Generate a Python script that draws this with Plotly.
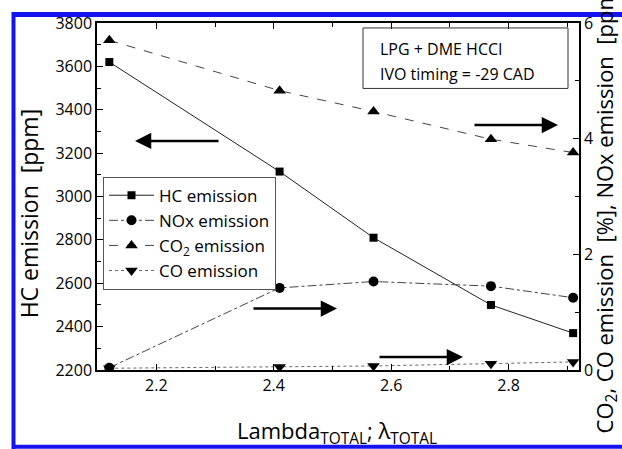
import plotly.graph_objects as go

# ---- data ----
lam = [2.12, 2.41, 2.57, 2.77, 2.91]
hc_ppm = [3620, 3115, 2810, 2500, 2370]
nox = [0.04, 1.42, 1.53, 1.45, 1.25]
co2 = [5.70, 4.83, 4.47, 3.99, 3.76]
co = [0.03, 0.05, 0.07, 0.11, 0.14]

x_ticks = [2.2, 2.4, 2.6, 2.8]
y_ticks = [2200, 2400, 2600, 2800, 3000, 3200, 3400, 3600, 3800]
y2_ticks = [0, 2, 4, 6]

FONT = "Open Sans"
W, H = 622, 449
L, R, T, B = 97, 579, 20, 370  # plot area in pixels


def px(xp):
    return (xp - L) / (R - L)


def py(yp):
    return (B - yp) / (B - T)


fig = go.Figure()
fig.add_trace(go.Scatter(x=lam, y=hc_ppm, name="HC emission", mode="lines+markers",
                         line=dict(color="#222", width=1, dash="solid"),
                         marker=dict(symbol="square", size=8, color="black")))
fig.add_trace(go.Scatter(x=lam, y=nox, name="NOx emission", yaxis="y2", mode="lines+markers",
                         line=dict(color="#444", width=1, dash="dashdot"),
                         marker=dict(symbol="circle", size=10, color="black")))
fig.add_trace(go.Scatter(x=lam, y=co2, name="CO<sub>2</sub> emission", yaxis="y2", mode="lines+markers",
                         line=dict(color="#444", width=1, dash="dash"),
                         marker=dict(symbol="triangle-up", size=11, color="black")))
fig.add_trace(go.Scatter(x=lam, y=co, name="CO emission", yaxis="y2", mode="lines+markers",
                         line=dict(color="#666", width=1, dash="dot"),
                         marker=dict(symbol="triangle-down", size=11, color="black")))

axis_common = dict(showline=True, linecolor="black", linewidth=1.5, ticks="inside",
                   tickcolor="black", ticklen=6, tickwidth=1, showgrid=False, zeroline=False,
                   tickfont=dict(family=FONT, size=16, color="black"))

fig.update_layout(
    width=W, height=H,
    margin=dict(l=L, r=W - R, t=T, b=H - B),
    paper_bgcolor="white", plot_bgcolor="white",
    font=dict(family=FONT, color="black"),
    xaxis=dict(range=[2.099, 2.92], tickvals=x_ticks, mirror="ticks",
               minor=dict(dtick=0.1, ticks="inside", ticklen=4, tickcolor="black"),
               **axis_common),
    yaxis=dict(range=[2200, 3800], tickvals=y_ticks,
               minor=dict(dtick=100, ticks="inside", ticklen=4, tickcolor="black"),
               **axis_common),
    yaxis2=dict(range=[0, 6], tickvals=y2_ticks, overlaying="y", side="right",
                minor=dict(dtick=1, ticks="inside", ticklen=4, tickcolor="black"),
                **axis_common),
    legend=dict(x=px(103), y=py(175), xanchor="left", yanchor="top",
                bgcolor="white", bordercolor="#555", borderwidth=1,
                font=dict(family=FONT, size=17, color="black"),
                tracegroupgap=0, itemwidth=45),
    showlegend=True,
)

annotations = []
# axis titles
annotations.append(dict(text="HC emission  [ppm]", x=px(29), y=py(212), xref="paper", yref="paper",
                        xanchor="center", yanchor="middle",
                        showarrow=False, textangle=-90, font=dict(family=FONT, size=23, color="black")))
annotations.append(dict(text="CO<sub>2</sub>, CO emission  [%], NOx emission  [ppm]", x=px(606), y=py(207),
                        xref="paper", yref="paper", showarrow=False, textangle=-90,
                        xanchor="center", yanchor="middle",
                        font=dict(family=FONT, size=22, color="black")))
annotations.append(dict(text="Lambda<sub>TOTAL</sub>; λ<sub>TOTAL</sub>", x=px(337), y=py(433),
                        xref="paper", yref="paper", showarrow=False,
                        xanchor="center", yanchor="middle",
                        font=dict(family=FONT, size=22, color="black")))
# info box text
annotations.append(dict(text="LPG + DME HCCI", x=px(378), y=py(46), xref="paper", yref="paper",
                        xanchor="left", yanchor="middle", showarrow=False,
                        font=dict(family=FONT, size=16, color="black")))
annotations.append(dict(text="IVO timing = -29 CAD", x=px(378), y=py(71), xref="paper", yref="paper",
                        xanchor="left", yanchor="middle", showarrow=False,
                        font=dict(family=FONT, size=16, color="black")))
# arrows (tip, tail) in pixel positions
for tip, tail in [((135, 139), (220, 139)), ((337, 308), (252, 308)),
                  ((463, 357), (378, 357)), ((558, 123), (473, 123))]:
    annotations.append(dict(x=px(tip[0]), y=py(tip[1]), xref="paper", yref="paper",
                            ax=tail[0] - tip[0], ay=tail[1] - tip[1], showarrow=True,
                            arrowhead=2, arrowsize=1.3, arrowwidth=2.5, arrowcolor="black", text=""))
fig.update_layout(annotations=annotations)

shapes = []
# info box
shapes.append(dict(type="rect", xref="paper", yref="paper", x0=px(363), x1=px(568), y0=py(25), y1=py(86),
                   line=dict(color="#333", width=1), fillcolor="rgba(0,0,0,0)"))
# blue page border
blue = "#1414f0"
shapes.append(dict(type="line", xref="paper", yref="paper", x0=px(12), x1=px(640), y0=py(11.5), y1=py(11.5),
                   line=dict(color=blue, width=5), layer="above"))
shapes.append(dict(type="line", xref="paper", yref="paper", x0=px(13.5), x1=px(13.5), y0=py(9), y1=py(460),
                   line=dict(color=blue, width=4), layer="above"))
shapes.append(dict(type="line", xref="paper", yref="paper", x0=px(12), x1=px(640), y0=py(447.5), y1=py(447.5),
                   line=dict(color=blue, width=4), layer="above"))
fig.update_layout(shapes=shapes)

fig.write_html("out.html")
